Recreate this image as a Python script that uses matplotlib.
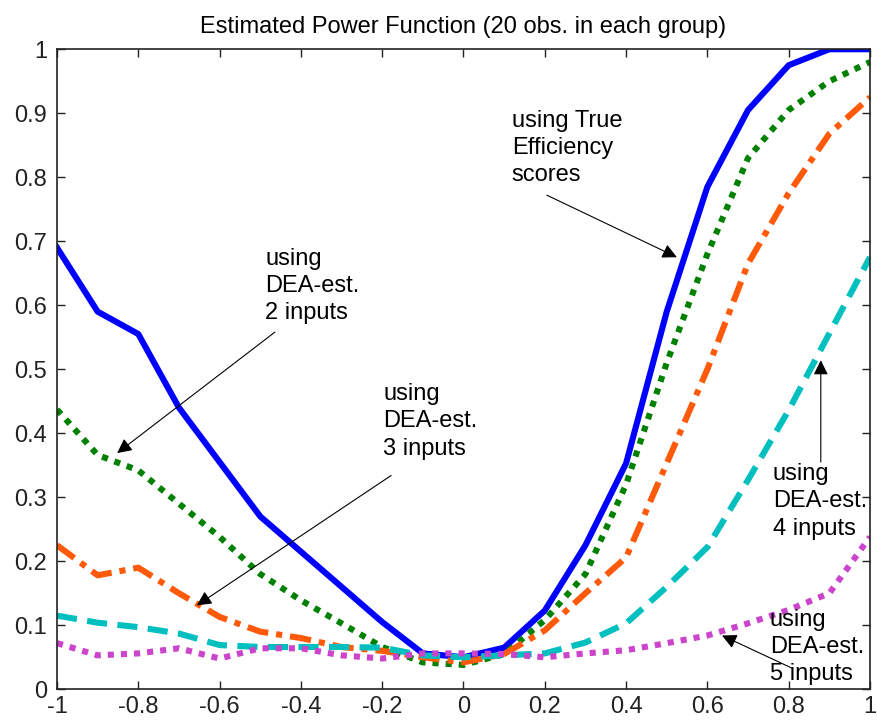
import numpy as np
import matplotlib
matplotlib.use('Agg')
import matplotlib.pyplot as plt
from matplotlib.ticker import FuncFormatter

plt.rcParams['font.family'] = ['Liberation Sans', 'DejaVu Sans']

# shift of the mean (x) and estimated power (y)
shift = [-1.0, -0.9, -0.8, -0.7, -0.6, -0.5, -0.4, -0.3, -0.2, -0.1, 0.0,
         0.1, 0.2, 0.3, 0.4, 0.5, 0.6, 0.7, 0.8, 0.9, 1.0]
power_true = [0.69, 0.59, 0.555, 0.44, 0.355, 0.27, 0.215, 0.16, 0.105, 0.056, 0.05,
              0.065, 0.123, 0.225, 0.353, 0.59, 0.785, 0.905, 0.975, 1.0, 1.0]
power_dea2 = [0.437, 0.366, 0.342, 0.29, 0.238, 0.18, 0.139, 0.103, 0.066, 0.042, 0.038,
              0.055, 0.108, 0.18, 0.32, 0.51, 0.68, 0.83, 0.905, 0.95, 0.98]
power_dea3 = [0.225, 0.178, 0.19, 0.15, 0.113, 0.09, 0.08, 0.066, 0.06, 0.05, 0.042,
              0.055, 0.092, 0.15, 0.206, 0.353, 0.5, 0.665, 0.775, 0.868, 0.925]
power_dea4 = [0.115, 0.104, 0.097, 0.087, 0.069, 0.066, 0.066, 0.066, 0.065, 0.053, 0.05,
              0.053, 0.056, 0.073, 0.103, 0.16, 0.222, 0.327, 0.436, 0.556, 0.675]
power_dea5 = [0.072, 0.053, 0.056, 0.064, 0.048, 0.064, 0.064, 0.053, 0.048, 0.056, 0.056,
              0.055, 0.05, 0.056, 0.061, 0.072, 0.084, 0.103, 0.124, 0.15, 0.238]

fig = plt.figure(figsize=(8.77, 7.24), dpi=100)
ax = fig.add_axes([0.065, 0.048, 0.927, 0.884])

lw = 4.4
ax.plot(shift, power_true, color='#0000ff', lw=lw, solid_joinstyle='round')
ax.plot(shift, power_dea2, color='#008000', lw=lw, dashes=(1, 1.15))
ax.plot(shift, power_dea3, color='#ff5a0a', lw=lw, dashes=(3.5, 1.3, 1, 1.3))
ax.plot(shift, power_dea4, color='#00bfbf', lw=lw, dashes=(3.3, 1.7))
ax.plot(shift, power_dea5, color='#cc44cc', lw=lw, dashes=(1, 1.15))

ax.set_xlim(-1, 1)
ax.set_ylim(0, 1)
ax.set_xticks(np.arange(-1, 1.01, 0.2))
ax.set_yticks(np.arange(0, 1.01, 0.1))
fmt = FuncFormatter(lambda v, p: '%g' % round(v, 2) if abs(v) > 1e-9 else '0')
ax.xaxis.set_major_formatter(fmt)
ax.yaxis.set_major_formatter(fmt)
ax.tick_params(direction='in', length=6, width=1, top=True, right=True,
               labelsize=17, colors='#222222')
ax.tick_params(axis='y', pad=7)
ax.tick_params(axis='x', pad=5)
for s in ax.spines.values():
    s.set_linewidth(1.2)
    s.set_color('#222222')

ax.set_title('Estimated Power Function (20 obs. in each group)', fontsize=17, pad=12)

arrow = dict(arrowstyle='-|>', color='black', lw=0.8, mutation_scale=22, shrinkA=0, shrinkB=0)
tkw = dict(fontsize=17, ha='left', va='top', linespacing=1.3)
ax.text(0.119, 0.905, 'using True\nEfficiency\nscores', **tkw)
ax.annotate('', xy=(0.525, 0.675), xytext=(0.205, 0.772), arrowprops=arrow)
ax.text(-0.488, 0.69, 'using\nDEA-est.\n2 inputs', **tkw)
ax.annotate('', xy=(-0.852, 0.369), xytext=(-0.464, 0.558), arrowprops=arrow)
ax.text(-0.198, 0.478, 'using\nDEA-est.\n3 inputs', **tkw)
ax.annotate('', xy=(-0.656, 0.131), xytext=(-0.178, 0.334), arrowprops=arrow)
ax.text(0.761, 0.353, 'using\nDEA-est.\n4 inputs', **tkw)
ax.annotate('', xy=(0.879, 0.514), xytext=(0.879, 0.355), arrowprops=arrow)
ax.text(0.754, 0.126, 'using\nDEA-est.\n5 inputs', **tkw)
ax.annotate('', xy=(0.636, 0.084), xytext=(0.808, 0.033), arrowprops=arrow)

fig.savefig('out.png', dpi=100)
